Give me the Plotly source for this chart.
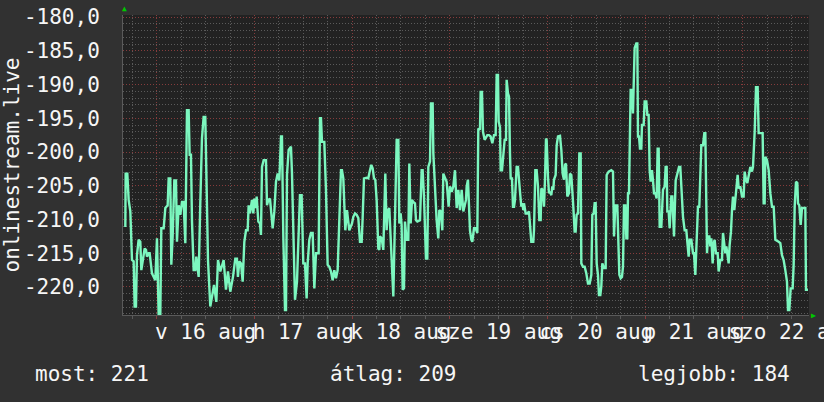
import plotly.graph_objects as go
import pandas as pd

# ---------------- data ----------------
start_time = pd.Timestamp("2020-08-15 16:00")
series_name = "onlinestream.live"

# hours after start_time
hours = [
    0.28, 0.36, 0.77, 1.10, 1.51, 1.92, 2.33, 2.57, 2.90, 3.14, 3.55, 3.96, 4.21, 4.62, 5.03, 5.36,
    5.60, 6.01, 6.26, 6.83, 7.65, 8.06, 8.47, 8.88, 9.12, 9.70, 10.11, 10.68, 10.93, 11.33, 11.58,
    11.91, 12.32, 12.73, 12.97, 13.38, 13.79, 14.20, 14.61, 15.02, 15.43, 15.84, 16.08, 16.41, 16.66,
    17.07, 17.48, 17.72, 18.30, 18.70, 19.11, 19.52, 19.93, 20.18, 20.59, 21.16, 21.57, 22.07, 22.64,
    23.05, 23.62, 24.44, 25.01, 25.50, 26.07, 26.73, 27.30, 27.71, 27.95,
    28.29, 28.70, 29.11, 29.52, 29.93, 30.34, 30.58, 30.91, 31.40, 31.73, 31.97, 32.38, 32.55, 32.96,
    33.37, 33.61, 33.86, 34.27, 34.84, 35.09, 35.41, 35.82, 36.07, 36.48, 36.89, 37.30, 37.71, 38.12,
    38.53, 38.77, 39.10, 39.51, 39.76, 40.00, 40.41, 40.98, 41.23, 41.64, 41.97, 42.46, 42.79, 43.19,
    43.60, 44.01, 44.42, 44.83, 45.08, 45.49, 45.90, 46.31, 46.72, 47.13, 47.78, 48.11, 48.35, 48.60,
    49.17, 49.58, 49.99, 50.40, 50.81, 51.22, 51.63, 52.04, 52.45, 52.86, 53.27, 53.51, 53.84, 54.33,
    54.74, 55.31, 55.97,
    56.30, 56.71, 57.12, 57.53, 57.94, 58.35, 58.59, 58.92, 59.58, 59.98, 60.39, 60.72, 61.05, 61.38,
    61.70, 62.03, 62.44, 62.69, 62.85, 63.26, 63.67, 63.92, 64.16, 64.49, 64.73, 65.14, 65.47, 65.88,
    66.13, 66.37, 66.70, 66.95, 67.36, 67.60, 67.93, 68.17, 68.42, 68.75, 68.99, 69.40, 69.81, 70.06,
    70.39, 70.72, 71.04, 71.45, 71.70, 72.02, 72.68, 73.09, 73.33, 73.66, 74.15, 74.48, 74.73, 75.14,
    75.38, 75.79, 75.96, 76.36, 76.77, 77.18, 77.43, 77.76, 78.17, 78.41, 78.82, 79.23, 79.72, 80.05,
    80.46, 80.87, 81.28, 81.69, 82.10, 82.51, 82.92, 83.33, 83.98,
    84.15, 84.47, 84.72, 84.96, 85.29, 85.54, 85.95, 86.36, 86.77, 87.01, 87.42, 87.58, 87.91, 88.16,
    88.57, 88.90, 89.22, 89.63, 90.04, 90.45, 90.86, 91.27, 91.52, 91.84, 92.01, 92.34, 92.50, 92.83,
    93.15, 93.48, 93.81, 93.97, 94.30, 94.55, 94.79, 94.96, 95.28, 95.53, 95.78, 96.02, 96.27, 96.43,
    96.76, 97.00, 97.25, 97.58, 97.82, 98.07, 98.23, 98.64, 99.05, 99.46, 99.71, 100.03, 100.52,
    100.69, 101.02, 101.34, 101.67, 102.00, 102.33, 102.49, 102.82, 103.15, 103.39, 103.64, 103.80,
    104.13, 104.37, 104.62, 104.95, 105.19, 105.44, 105.60, 106.01, 106.26, 106.59, 107.08, 107.41,
    107.73, 108.06, 108.31, 108.55, 108.88, 109.29, 109.53, 109.86, 110.35, 110.68, 110.93, 111.17,
    111.50,
    111.83, 112.16, 112.32, 112.73, 113.14, 113.55, 113.96, 114.37, 114.78, 115.02, 115.35, 115.60,
    115.84, 116.09, 116.41, 116.66, 116.99, 117.23, 117.48, 117.89, 118.30, 118.54, 119.03, 119.69,
    120.10, 120.35, 120.67, 121.16, 121.41, 121.66, 121.98, 122.31, 122.56, 122.80, 123.13, 123.38,
    123.62, 123.79, 124.03, 124.44, 124.77, 125.01, 125.42, 125.83, 126.08, 126.24, 126.49, 126.73,
    127.06, 127.22, 127.63, 127.88, 128.29, 128.54, 128.86, 129.11, 129.35, 129.68, 129.93, 130.17,
    130.50, 130.83, 131.07, 131.32, 131.57, 131.98, 132.38, 132.79, 133.04, 133.29, 133.45, 133.78,
    134.02, 134.43, 134.68, 135.09, 135.50, 135.91, 136.32, 136.64, 136.89, 137.30, 137.71, 138.12,
    138.36, 138.69, 138.94, 139.35, 139.76,
    140.00, 140.33, 140.57, 140.98, 141.31, 141.56, 141.80, 142.21, 142.54, 142.79, 143.03, 143.20,
    143.44, 143.77, 144.01, 144.26, 144.59, 144.83, 145.08, 145.41, 145.82, 146.06, 146.47, 146.88,
    147.13, 147.45, 147.70, 147.95, 148.19, 148.52, 148.76, 149.09, 149.34, 149.58, 149.91, 150.16,
    150.40, 150.73, 150.98, 151.39, 151.80, 152.20, 152.45, 152.78, 153.11, 153.43, 153.84, 154.25,
    154.50, 154.91, 155.24, 155.64, 155.89, 156.87, 157.12, 157.36, 157.53, 157.94, 158.35, 158.76,
    159.17, 159.58, 159.99, 160.80, 161.21, 161.62, 162.03, 162.44, 162.85, 163.10, 163.43, 163.75,
    164.24, 164.49, 164.74, 165.06, 165.39, 165.56, 165.88, 166.21, 166.54, 167.36, 167.52, 168.01,
]

values = [
    -211.1, -203.2, -203.2, -207.1, -208.8, -216.0, -216.2, -222.9, -222.9, -215.3, -213.0, -213.3,
    -217.5, -216.2, -214.3, -214.5, -215.5, -215.0, -215.0, -218.0, -219.0, -212.8, -224.1, -224.1,
    -211.3, -211.3, -208.3, -207.9, -203.9, -203.9, -216.7, -212.5, -204.2, -204.2, -213.3, -207.9,
    -209.3, -207.4, -207.4, -213.5, -193.8, -193.8, -200.4, -200.4, -210.3, -217.5, -217.5, -215.5,
    -218.5, -207.6, -198.0, -194.8, -194.8, -202.7, -216.0, -222.9, -221.4, -219.7, -222.2, -216.0,
    -217.7, -216.0, -220.4, -217.7, -220.7, -218.5, -215.8, -215.8, -218.5,
    -216.2, -216.5, -219.2, -213.3, -211.6, -211.6, -207.9, -209.1, -207.1, -209.1, -206.9, -208.3,
    -206.6, -210.3, -210.6, -212.3, -202.2, -201.2, -201.2, -207.9, -207.1, -206.9, -208.6, -211.3,
    -208.8, -204.4, -203.2, -204.2, -197.7, -197.7, -212.5, -223.4, -223.4, -203.4, -199.7, -199.2,
    -203.2, -212.5, -221.9, -219.2, -214.3, -206.4, -206.4, -216.5, -216.5, -221.7, -216.5, -213.0,
    -212.0, -212.0, -220.2, -215.0, -215.0, -195.0, -195.0, -198.5, -198.5, -205.6, -216.7, -217.0,
    -217.7, -219.0, -217.5, -218.7, -217.5, -209.3, -202.7, -202.7, -203.9, -211.6, -208.6, -211.6,
    -210.6,
    -209.6, -209.1, -209.3, -209.8, -213.3, -213.3, -209.8, -203.9, -203.8, -203.9, -202.7, -201.9,
    -202.4, -203.9, -204.1, -207.1, -214.3, -214.5, -212.5, -212.8, -214.5, -209.6, -203.2, -211.6,
    -208.8, -208.3, -212.8, -219.5, -221.4, -214.5, -204.6, -198.2, -198.2, -210.6, -209.1, -210.8,
    -220.4, -220.2, -210.3, -213.0, -213.0, -201.7, -210.6, -207.1, -207.4, -207.6, -210.1, -210.3,
    -210.1, -202.7, -202.7, -206.6, -215.8, -215.8, -202.2, -201.4, -192.8, -192.8, -200.2, -205.6,
    -210.1, -212.8, -208.6, -208.8, -211.6, -203.2, -203.9, -204.4, -208.1, -205.1, -205.9, -205.1,
    -202.7, -208.3, -205.6, -208.6, -205.6, -208.8, -207.1,
    -205.1, -204.1, -207.1, -211.6, -213.0, -213.3, -211.3, -211.3, -212.0, -196.5, -196.7, -191.1,
    -191.1, -197.0, -198.2, -197.7, -197.5, -197.5, -197.7, -198.7, -197.5, -197.5, -188.6, -188.6,
    -195.5, -196.3, -202.7, -202.7, -200.7, -198.2, -198.2, -189.3, -191.3, -191.8, -200.2, -203.9,
    -203.9, -208.1, -208.1, -207.1, -204.1, -202.2, -202.2, -205.1, -205.9, -208.1, -207.6, -208.6,
    -207.6, -209.1, -209.1, -208.8, -210.3, -213.3, -213.3, -211.6, -202.7, -202.7, -205.1, -210.1,
    -210.1, -205.4, -205.6, -208.1, -204.1, -198.0, -198.2, -203.7, -206.1, -205.9, -206.4, -205.1,
    -205.6, -204.1, -203.4, -199.0, -197.7, -197.6, -199.7, -203.2, -204.1, -201.9, -201.7, -206.6,
    -206.1, -203.2, -203.4, -208.1, -211.8, -211.8, -209.3, -209.1,
    -200.2, -200.2, -216.5, -217.0, -217.0, -218.0, -219.5, -219.5, -218.2, -209.3, -209.1, -207.6,
    -207.6, -216.5, -218.2, -221.2, -221.2, -219.9, -216.5, -217.2, -217.2, -203.4, -202.9, -202.7,
    -202.9, -212.5, -207.9, -207.9, -212.8, -218.2, -218.7, -218.5, -217.0, -207.9, -207.9, -212.8,
    -212.8, -206.1, -206.1, -190.8, -190.8, -194.3, -184.6, -183.9, -183.9, -197.7, -197.7, -199.5,
    -199.5, -196.0, -196.0, -192.5, -192.5, -194.5, -194.5, -202.7, -204.4, -202.7, -204.2, -206.1,
    -206.1, -206.9, -199.5, -199.5, -211.1, -211.1, -205.6, -205.1, -202.2, -202.2, -208.8, -208.8,
    -211.3, -206.6, -206.6, -212.5, -204.2, -202.9, -202.2, -202.2, -205.6, -209.6, -211.6, -211.6,
    -213.3, -215.5, -213.0, -213.0, -215.0,
    -215.0, -218.2, -215.0, -208.1, -208.1, -204.1, -199.0, -199.0, -197.2, -197.2, -207.6, -215.0,
    -212.5, -212.5, -214.0, -212.8, -216.5, -213.5, -213.0, -215.0, -215.0, -217.7, -216.0, -216.0,
    -212.0, -214.0, -215.0, -214.0, -215.5, -216.5, -213.8, -211.8, -208.6, -206.6, -208.6, -207.1,
    -205.1, -203.4, -205.4, -205.1, -206.6, -206.6, -202.9, -204.1, -204.6, -203.2, -202.2, -202.9,
    -202.2, -197.0, -190.4, -190.4, -197.2, -197.2, -207.6, -207.6, -200.7, -201.2, -202.7, -206.1,
    -208.1, -208.1, -213.0, -213.3, -213.5, -215.3, -216.0, -217.5, -219.2, -223.4, -223.4, -220.2,
    -220.2, -216.7, -208.1, -204.4, -204.6, -207.6, -207.9, -210.8, -208.3, -208.3, -220.4, -220.4,
]

y_tick_vals = [-180, -185, -190, -195, -200, -205, -210, -215, -220]
y_tick_text = ["-180,0", "-185,0", "-190,0", "-195,0", "-200,0", "-205,0", "-210,0", "-215,0", "-220,0"]

day_label_times = ["2020-08-16 12:00", "2020-08-17 12:00", "2020-08-18 12:00", "2020-08-19 12:00",
                   "2020-08-20 12:00", "2020-08-21 12:00", "2020-08-22 12:00"]
day_labels = ["v 16 aug", "h 17 aug", "k 18 aug", "sze 19 aug", "cs 20 aug", "p 21 aug", "szo 22 aug"]

stat_labels = ["most: 221", "átlag: 209", "legjobb: 184"]

# ---------------- styling ----------------
x_range = ["2020-08-15 15:42:36", "2020-08-22 16:15:36"]
y_range = [-224.15, -179.7]
MONO = "DejaVu Sans Mono"
TXT = "#f6f6f6"
BG = "#313131"
PLOT_BG = "#222222"
LINE = "#7cf7bf"
GRID_MINOR = "#5a5a5a"
GRID_MAJOR = "#853c3c"

times = start_time + pd.to_timedelta(hours, unit="h")

fig = go.Figure()
fig.add_trace(go.Scatter(
    x=times, y=values, mode="lines", name=series_name,
    line=dict(color=LINE, width=2.4), hoverinfo="skip",
))
# empty carrier trace so the label axis (x2) is drawn
fig.add_trace(go.Scatter(
    x=day_label_times, y=[None] * len(day_label_times), xaxis="x2", yaxis="y",
    mode="lines", hoverinfo="skip", showlegend=False,
))

fig.update_layout(
    width=824, height=402,
    margin=dict(l=123, r=15, t=15, b=87, autoexpand=False),
    paper_bgcolor=BG, plot_bgcolor=PLOT_BG,
    showlegend=False,
    font=dict(family=MONO, size=21, color=TXT),
    xaxis=dict(
        type="date", range=x_range, automargin=False,
        tick0="2020-08-16", dtick=86400000,
        showgrid=True, gridcolor=GRID_MAJOR, gridwidth=1, griddash="1px,2px",
        minor=dict(dtick=21600000, tick0="2020-08-16", showgrid=True,
                   gridcolor=GRID_MINOR, gridwidth=1, griddash="1px,2px",
                   ticks="outside", ticklen=3, tickcolor=GRID_MINOR),
        ticks="outside", ticklen=3, tickcolor=GRID_MAJOR,
        showticklabels=False,
        showline=True, linecolor="#5a5a5a", linewidth=1,
        zeroline=False, fixedrange=True,
    ),
    xaxis2=dict(
        type="date", range=x_range, overlaying="x", anchor="y", side="bottom",
        automargin=False,
        tickmode="array", tickvals=day_label_times, ticktext=day_labels,
        tickangle=0, ticklabeloverflow="allow",
        showgrid=False, ticks="", showline=False, zeroline=False,
        ticklabelstandoff=2,
        tickfont=dict(family=MONO, size=21, color=TXT),
    ),
    yaxis=dict(
        range=y_range, automargin=False,
        tickmode="array", tickvals=y_tick_vals, ticktext=y_tick_text,
        showgrid=True, gridcolor=GRID_MAJOR, gridwidth=1, griddash="1px,2px",
        minor=dict(dtick=1, tick0=-180, showgrid=True,
                   gridcolor=GRID_MINOR, gridwidth=1, griddash="1px,2px"),
        ticks="", ticklabelstandoff=18,
        tickfont=dict(family=MONO, size=21, color=TXT),
        showline=True, linecolor="#5a5a5a", linewidth=1,
        zeroline=False, fixedrange=True,
        title=dict(text=series_name, font=dict(family=MONO, size=21, color=TXT), standoff=10),
    ),
)

# green arrow heads at the axis ends
fig.add_annotation(xref="paper", yref="paper", x=0.0015, y=1.0, text="▲", showarrow=False,
                   xanchor="center", yanchor="bottom", font=dict(size=8, color="#00c800"))
fig.add_annotation(xref="paper", yref="paper", x=1.0, y=0.0, text="▶", showarrow=False,
                   xanchor="left", yanchor="middle", font=dict(size=8, color="#00c800"))

# statistics line under the chart
stat_x = [-0.1312, 0.2988, 0.7478]
for sx, txt in zip(stat_x, stat_labels):
    fig.add_annotation(xref="paper", yref="paper", x=sx, y=-0.1967, text=txt, showarrow=False,
                       xanchor="left", yanchor="middle",
                       font=dict(family=MONO, size=21, color=TXT))

fig.write_html("out.html", config={"displayModeBar": False},
               post_script="document.body.style.margin='0';")
